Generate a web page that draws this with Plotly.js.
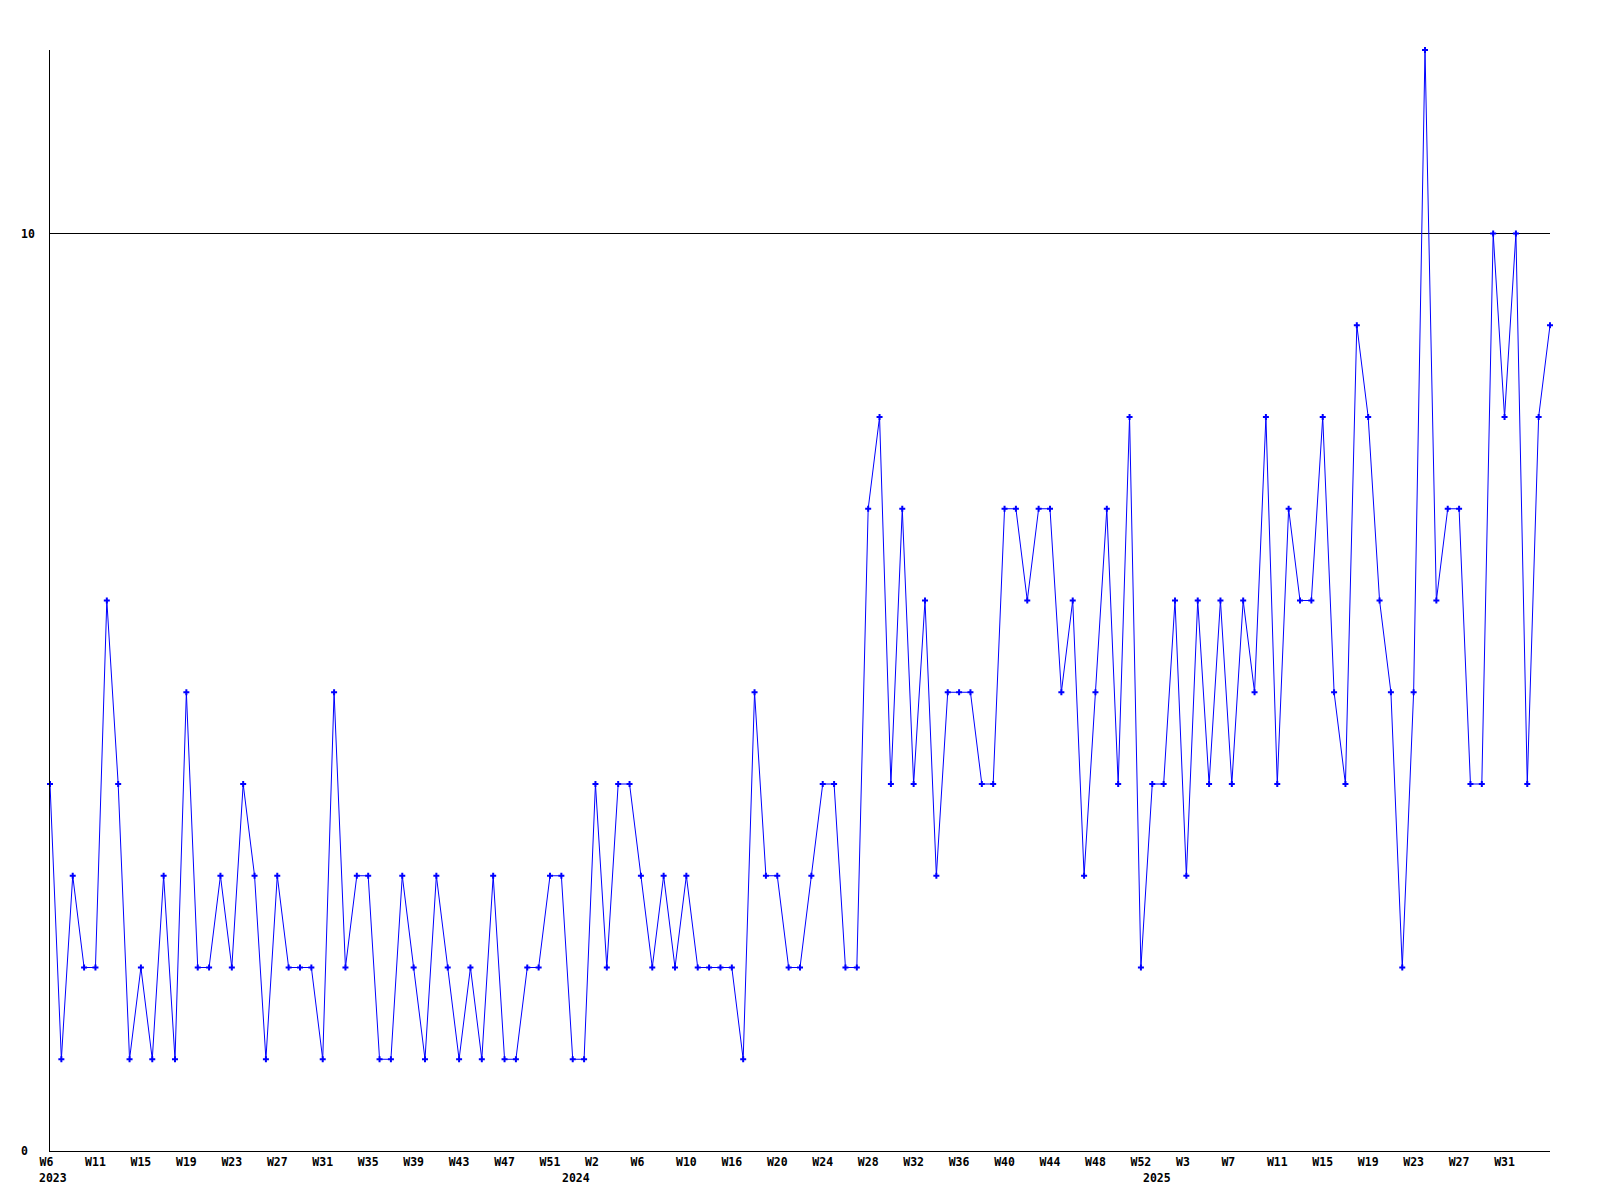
<!DOCTYPE html>
<html>
<head>
<meta charset="utf-8">
<script src="https://cdn.plot.ly/plotly-3.0.1.min.js"></script>
<style>
  html, body { margin: 0; padding: 0; background: #ffffff; }
  #chart { width: 1600px; height: 1200px; }
</style>
</head>
<body>
<div id="chart"></div>
<script>
// Weekly counts, 2023 W6 .. 2025 (one value per plotted point)
const counts = [
  4,1,3,2,2,6,4,1,2,1,
  3,1,5,2,2,3,2,4,3,1,
  3,2,2,2,1,5,2,3,3,1,
  1,3,2,1,3,2,1,2,1,3,
  1,1,2,2,3,3,1,1,4,2,
  4,4,3,2,3,2,3,2,2,2,
  2,1,5,3,3,2,2,3,4,4,
  2,2,7,8,4,7,4,6,3,5,
  5,5,4,4,7,7,6,7,7,5,
  6,3,5,7,4,8,2,4,4,6,
  3,6,4,6,4,6,5,8,4,7,
  6,6,8,5,4,9,8,6,5,2,
  5,12,6,7,7,4,4,10,8,10,
  4,8,9
];

// Week tick labels, one every 4th point
const weekLabels = [
  'W6','W11','W15','W19','W23','W27','W31','W35','W39','W43','W47','W51',
  'W2','W6','W10','W16','W20','W24','W28','W32','W36','W40','W44','W48','W52',
  'W3','W7','W11','W15','W19','W23','W27','W31'
];

const yearLabels = ['2023', '2024', '2025'];

const yTickVals = [0, 10];
const yTickText = ['0', '10'];

const pointIndex = counts.map((_, i) => i);
const tickStep = 4;
const weekTickVals = weekLabels.map((_, i) => i * tickStep);
// labels in the original start at a fixed offset left of the tick: pad short ones on the right
const weekTickText = weekLabels.map(s => s.length < 3 ? s + '\u00a0' : s);

const labelFont = { family: 'DejaVu Sans Mono, Liberation Mono, monospace', size: 11.5, color: '#000000', weight: 'bold' };

const yearPos = [0.27, 46.3, 97.4];

const annotations = [];
yTickVals.forEach((v, i) => {
  annotations.push({
    text: yTickText[i], xref: 'paper', x: -0.0205, xanchor: 'left',
    yref: 'y', y: v, yanchor: 'middle', showarrow: false, font: labelFont
  });
});
yearLabels.forEach((t, i) => {
  annotations.push({
    text: t, xref: 'x', x: yearPos[i], xanchor: 'center',
    yref: 'paper', y: -0.0245, yanchor: 'middle', showarrow: false, font: labelFont
  });
});

const trace = {
  type: 'scatter',
  mode: 'lines+markers',
  x: pointIndex,
  y: counts,
  line: { color: '#0000ff', width: 1 },
  marker: { color: '#0000ff', symbol: 'cross', size: 5 },
  cliponaxis: false,
  hoverinfo: 'skip'
};

const layout = {
  width: 1600,
  height: 1200,
  margin: { l: 50, r: 50, t: 50, b: 49, pad: 0 },
  paper_bgcolor: '#ffffff',
  plot_bgcolor: '#ffffff',
  showlegend: false,
  xaxis: {
    range: [0, counts.length - 1],
    tickmode: 'array',
    tickvals: weekTickVals,
    ticktext: weekTickText,
    tickfont: labelFont,
    ticks: '',
    showgrid: false,
    zeroline: false,
    showline: true,
    linecolor: '#000000',
    linewidth: 1
  },
  yaxis: {
    range: [0, 12],
    tickmode: 'array',
    tickvals: yTickVals,
    showticklabels: false,
    ticks: '',
    showgrid: true,
    gridcolor: '#000000',
    gridwidth: 1,
    zeroline: false,
    showline: true,
    linecolor: '#000000',
    linewidth: 1
  },
  annotations: annotations
};

Plotly.newPlot('chart', [trace], layout, { displayModeBar: false, staticPlot: true });
</script>
</body>
</html>
